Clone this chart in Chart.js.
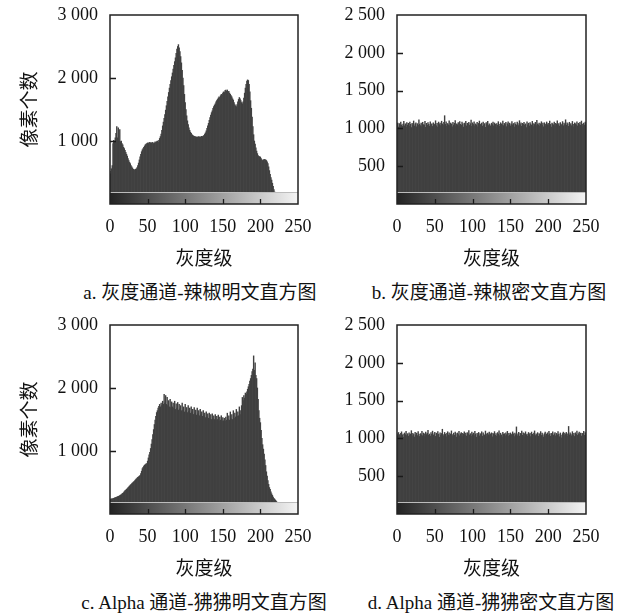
<!DOCTYPE html>
<html>
<head>
<meta charset="utf-8">
<script src="https://cdn.jsdelivr.net/npm/chart.js@4.4.1/dist/chart.umd.min.js"></script>
<style>
  body { margin: 0; background: #fff; }
  #wrap { position: relative; width: 624px; height: 614px; }
  canvas { position: absolute; }
  .cap { position: absolute; width: 312px; text-align: center; white-space: nowrap;
         font: 19px 'Liberation Serif', 'Noto Sans CJK SC', serif; line-height: 24px; color: #111; }
</style>
</head>
<body>
<div id="wrap">
  <canvas id="cA" width="312" height="270" style="left:0;top:0"></canvas>
  <canvas id="cB" width="312" height="270" style="left:312px;top:0"></canvas>
  <canvas id="cC" width="312" height="270" style="left:0;top:310px"></canvas>
  <canvas id="cD" width="312" height="270" style="left:312px;top:310px"></canvas>
  <div class="cap" style="left:44px;top:281px">a. 灰度通道-辣椒明文直方图</div>
  <div class="cap" style="left:333px;top:281px">b. 灰度通道-辣椒密文直方图</div>
  <div class="cap" style="left:48px;top:591px">c. Alpha 通道-狒狒明文直方图</div>
  <div class="cap" style="left:335px;top:591px">d. Alpha 通道-狒狒密文直方图</div>
</div>
<script>
// gray levels 0..255
const grayLevels = Array.from({ length: 256 }, (_, i) => i);
const xTicks = [0, 50, 100, 150, 200, 250];

// a. gray channel, peppers plain image
const grayPlain = [
  520, 480, 560, 610, 960, 1010, 980, 1050, 1120, 1230, 1050, 1210, 1000, 1180, 990, 1000,
  960, 940, 900, 880, 850, 820, 790, 760, 720, 690, 660, 640, 610, 590, 570, 550,
  545, 540, 550, 560, 580, 610, 650, 700, 750, 790, 830, 860, 880, 900, 920, 940,
  950, 960, 970, 960, 975, 980, 970, 965, 980, 975, 960, 970, 985, 975, 990, 1000,
  980, 1010, 1040, 1070, 1110, 1170, 1240, 1300, 1360, 1420, 1490, 1560, 1630, 1700, 1770, 1840,
  1900, 1960, 2020, 2080, 2140, 2200, 2260, 2320, 2390, 2460, 2500, 2530, 2480, 2420, 2340, 2240,
  2120, 2000, 1880, 1740, 1610, 1500, 1400, 1320, 1260, 1210, 1170, 1140, 1120, 1100, 1090, 1080,
  1075, 1070, 1065, 1060, 1065, 1060, 1070, 1065, 1060, 1070, 1075, 1070, 1080, 1090, 1110, 1130,
  1160, 1200, 1240, 1280, 1330, 1370, 1410, 1450, 1480, 1520, 1545, 1570, 1590, 1620, 1640, 1660,
  1680, 1700, 1690, 1720, 1740, 1730, 1760, 1780, 1770, 1800, 1810, 1790, 1810, 1780, 1790, 1760,
  1740, 1720, 1700, 1670, 1650, 1610, 1580, 1560, 1545, 1580, 1620, 1660, 1690, 1670, 1640, 1610,
  1590, 1620, 1680, 1760, 1840, 1900, 1950, 1970, 1960, 1900, 1780, 1640, 1520, 1380, 1230, 1100,
  1000, 950, 890, 840, 800, 770, 755, 750, 745, 720, 700, 690, 700, 710, 705, 700,
  690, 670, 640, 590, 530, 470, 420, 380, 330, 280, 230, 190, 150, 110, 80, 50,
  30, 15, 8, 3, 0, 0, 0, 0, 0, 0, 0, 0, 0, 0, 0, 0,
  0, 0, 0, 0, 0, 0, 0, 0, 0, 0, 0, 0, 0, 0, 0, 0
];

// b. gray channel, peppers cipher image
const grayCipher = [
  1052, 1071, 1018, 1064, 1039, 1083, 1046, 1027, 1058, 1092, 1034, 1061, 1015, 1077, 1043, 1068,
  1029, 1085, 1054, 1011, 1066, 1047, 1098, 1032, 1059, 1074, 1021, 1063, 1040, 1112, 1056, 1037,
  1069, 1024, 1081, 1050, 1045, 1093, 1013, 1067, 1042, 1078, 1055, 1030, 1088, 1049, 1062, 1026,
  1073, 1041, 1057, 1101, 1035, 1066, 1019, 1084, 1051, 1070, 1038, 1095, 1060, 1044, 1079, 1168,
  1053, 1086, 1028, 1065, 1047, 1099, 1036, 1072, 1058, 1022, 1080, 1043, 1067, 1105, 1031, 1061,
  1048, 1076, 1025, 1090, 1054, 1039, 1083, 1062, 1017, 1071, 1046, 1094, 1033, 1068, 1056, 1081,
  1040, 1063, 1110, 1027, 1074, 1052, 1088, 1035, 1060, 1045, 1079, 1020, 1066, 1097, 1049, 1058,
  1071, 1030, 1085, 1042, 1064, 1014, 1077, 1055, 1092, 1038, 1061, 1047, 1026, 1069, 1050, 1083,
  1034, 1072, 1057, 1016, 1064, 1041, 1089, 1053, 1029, 1075, 1060, 1044, 1098, 1037, 1066, 1051,
  1079, 1023, 1062, 1087, 1045, 1070, 1033, 1058, 1091, 1048, 1065, 1019, 1076, 1054, 1040, 1084,
  1063, 1036, 1102, 1050, 1073, 1028, 1067, 1055, 1081, 1043, 1060, 1012, 1086, 1047, 1069, 1032,
  1078, 1056, 1041, 1093, 1024, 1065, 1052, 1080, 1037, 1108, 1059, 1046, 1071, 1030, 1062, 1088,
  1044, 1069, 1021, 1075, 1057, 1034, 1085, 1050, 1066, 1039, 1096, 1053, 1018, 1072, 1061, 1047,
  1082, 1026, 1068, 1054, 1099, 1040, 1063, 1031, 1077, 1058, 1045, 1090, 1035, 1070, 1052, 1114,
  1043, 1074, 1060, 1027, 1081, 1049, 1065, 1036, 1092, 1055, 1020, 1073, 1062, 1046, 1087, 1033,
  1068, 1051, 1079, 1039, 1097, 1057, 1025, 1071, 1044, 1084, 1063, 1030, 1076, 1052, 1067, 1041
];

// c. alpha channel, baboon plain image
const alphaPlain = [
  230, 235, 240, 240, 245, 250, 255, 260, 265, 270, 275, 280, 285, 291, 300, 310,
  320, 330, 340, 355, 370, 380, 392, 405, 418, 430, 445, 458, 470, 482, 495, 505,
  518, 530, 545, 558, 570, 582, 592, 600, 612, 640, 680, 720, 740, 760, 775, 785,
  795, 800, 840, 890, 940, 980, 1040, 1110, 1180, 1260, 1340, 1420, 1490, 1550, 1610, 1640,
  1680, 1710, 1740, 1700, 1760, 1720, 1790, 1740, 1900, 1760, 1880, 1740, 1850, 1720, 1800, 1700,
  1820, 1690, 1780, 1700, 1760, 1680, 1790, 1660, 1750, 1680, 1770, 1650, 1740, 1670, 1720, 1640,
  1760, 1650, 1700, 1620, 1740, 1640, 1690, 1610, 1720, 1630, 1680, 1600, 1700, 1620, 1660, 1580,
  1690, 1600, 1650, 1570, 1680, 1590, 1640, 1560, 1660, 1580, 1620, 1550, 1640, 1560, 1600, 1530,
  1620, 1540, 1590, 1520, 1600, 1510, 1580, 1500, 1590, 1510, 1560, 1500, 1580, 1490, 1550, 1500,
  1570, 1480, 1540, 1490, 1560, 1470, 1530, 1480, 1520, 1470, 1540, 1490, 1600, 1500, 1560, 1490,
  1620, 1510, 1580, 1500, 1640, 1520, 1600, 1540, 1660, 1550, 1620, 1560, 1700, 1580, 1640, 1720,
  1850, 1800, 1880, 1840, 1920, 1900, 1940, 1980, 2020, 2060, 2110, 2150, 2200, 2260, 2300, 2510,
  2280, 2400, 2200, 2150, 2000, 1820, 1640, 1520, 1450, 1330, 1200, 1100, 1030, 950, 860, 770,
  670, 600, 530, 470, 420, 390, 350, 320, 295, 270, 250, 235, 220, 205, 190, 170,
  150, 130, 110, 90, 70, 50, 35, 20, 10, 5, 0, 0, 0, 0, 0, 0,
  0, 0, 0, 0, 0, 0, 0, 0, 0, 0, 0, 0, 0, 0, 0, 0
];

// d. alpha channel, baboon cipher image
const alphaCipher = [
  1061, 1034, 1078, 1049, 1022, 1066, 1087, 1041, 1057, 1013, 1072, 1050, 1095, 1038, 1063, 1029,
  1075, 1046, 1059, 1102, 1033, 1068, 1052, 1018, 1081, 1044, 1070, 1037, 1089, 1055, 1026, 1064,
  1048, 1093, 1035, 1071, 1060, 1024, 1084, 1051, 1066, 1106, 1042, 1058, 1030, 1077, 1053, 1096,
  1039, 1062, 1080, 1027, 1069, 1047, 1091, 1056, 1015, 1073, 1043, 1065, 1121, 1050, 1032, 1079,
  1057, 1021, 1067, 1088, 1045, 1074, 1036, 1060, 1099, 1052, 1028, 1070, 1041, 1083, 1064, 1019,
  1072, 1049, 1094, 1035, 1061, 1078, 1023, 1066, 1054, 1086, 1040, 1069, 1031, 1076, 1058, 1103,
  1044, 1063, 1027, 1082, 1050, 1071, 1037, 1092, 1059, 1016, 1068, 1046, 1079, 1033, 1065, 1055,
  1088, 1029, 1073, 1052, 1040, 1097, 1062, 1025, 1070, 1048, 1085, 1036, 1059, 1074, 1021, 1067,
  1053, 1090, 1042, 1064, 1031, 1077, 1057, 1101, 1038, 1069, 1047, 1017, 1080, 1055, 1063, 1034,
  1075, 1050, 1093, 1026, 1066, 1044, 1072, 1058, 1039, 1086, 1061, 1023, 1070, 1049, 1152, 1035,
  1062, 1081, 1030, 1068, 1054, 1096, 1041, 1073, 1020, 1064, 1087, 1046, 1058, 1032, 1078, 1051,
  1067, 1024, 1084, 1056, 1043, 1071, 1099, 1037, 1060, 1048, 1076, 1028, 1065, 1053, 1090, 1039,
  1070, 1047, 1018, 1063, 1082, 1035, 1057, 1074, 1044, 1094, 1061, 1029, 1068, 1051, 1086, 1040,
  1059, 1077, 1033, 1066, 1048, 1091, 1055, 1022, 1072, 1045, 1008, 1064, 1083, 1038, 1069, 1052,
  1079, 1031, 1062, 1158, 1047, 1073, 1056, 1035, 1089, 1043, 1067, 1026, 1075, 1054, 1098, 1040,
  1063, 1085, 1049, 1071, 1032, 1068, 1057, 1094, 1041, 1076, 1053, 1027, 1066, 1088, 1045, 1072
];

const FONT = "'Liberation Serif', 'Noto Sans CJK SC', serif";
const CJK = "'Noto Sans CJK SC', sans-serif";

function fmt(v) {
  if (v === 0) return '';
  return String(v).replace(/\B(?=(\d{3})+(?!\d))/g, ' ');
}

// gradient strip, inward ticks and frame
const framePlugin = {
  id: 'frame',
  afterDatasetsDraw(chart) {
    const { ctx, chartArea: a, scales: { x, y } } = chart;
    const h = 12;
    ctx.save();
    const g = ctx.createLinearGradient(a.left, 0, a.right, 0);
    g.addColorStop(0, '#242424');
    g.addColorStop(1, '#f4f4f4');
    ctx.fillStyle = g;
    ctx.fillRect(a.left, a.bottom - h, a.right - a.left, h);
    ctx.strokeStyle = '#bcbcbc';
    ctx.lineWidth = 1;
    ctx.beginPath();
    ctx.moveTo(a.left, a.bottom - h + 0.5);
    ctx.lineTo(a.right, a.bottom - h + 0.5);
    ctx.stroke();

    ctx.strokeStyle = '#1a1a1a';
    ctx.lineWidth = 1.3;
    ctx.beginPath();
    x.ticks.forEach(t => {
      if (t.value <= x.min || t.value >= x.max) return;
      const px = Math.round(x.getPixelForValue(t.value)) + 0.5;
      ctx.moveTo(px, a.bottom);
      ctx.lineTo(px, a.bottom - 5);
    });
    y.ticks.forEach(t => {
      if (t.value <= y.min || t.value >= y.max) return;
      const py = Math.round(y.getPixelForValue(t.value)) + 0.5;
      ctx.moveTo(a.left, py);
      ctx.lineTo(a.left + 6, py);
    });
    ctx.stroke();

    ctx.lineWidth = 1.5;
    ctx.strokeStyle = '#222';
    ctx.strokeRect(a.left, a.top, a.right - a.left, a.bottom - a.top);
    ctx.restore();
  }
};

function makeChart(id, values, yMax, yStep, yTitle, padLeft, yWidth, padRight) {
  new Chart(document.getElementById(id), {
    type: 'bar',
    data: {
      labels: grayLevels,
      datasets: [{
        data: values,
        backgroundColor: '#404040',
        borderWidth: 0,
        barPercentage: 1,
        categoryPercentage: 1
      }]
    },
    options: {
      responsive: false,
      animation: false,
      events: [],
      layout: { padding: { left: padLeft, right: padRight, top: 15, bottom: 1 } },
      plugins: { legend: { display: false }, tooltip: { enabled: false } },
      scales: {
        x: {
          type: 'linear',
          min: 0,
          max: 250,
          offset: false,
          afterBuildTicks: s => { s.ticks = xTicks.map(v => ({ value: v })); },
          grid: { display: false, drawTicks: false },
          border: { display: false },
          ticks: { font: { family: FONT, size: 18 }, color: '#111', padding: 12, maxRotation: 0 },
          title: { display: true, text: '灰度级', font: { family: CJK, size: 19 }, color: '#111', padding: 0 },
          afterFit: s => { s.height = 65; s.paddingLeft = 0; s.paddingRight = 0; }
        },
        y: {
          min: 0,
          max: yMax,
          grid: { display: false, drawTicks: false },
          border: { display: false },
          ticks: { stepSize: yStep, callback: fmt, font: { family: FONT, size: 18 }, color: '#111', padding: 12 },
          title: { display: !!yTitle, text: yTitle || '', font: { family: CJK, size: 19 }, color: '#111', padding: 0 },
          afterFit: s => { s.width = yWidth; s.paddingTop = 0; s.paddingBottom = 0; }
        }
      }
    },
    plugins: [framePlugin]
  });
}

makeChart('cA', grayPlain, 3000, 1000, '像素个数', 17, 93, 14);
makeChart('cB', grayCipher, 2500, 500, null, 0, 85, 38);
makeChart('cC', alphaPlain, 3000, 1000, '像素个数', 17, 93, 14);
makeChart('cD', alphaCipher, 2500, 500, null, 0, 85, 38);
</script>
</body>
</html>
